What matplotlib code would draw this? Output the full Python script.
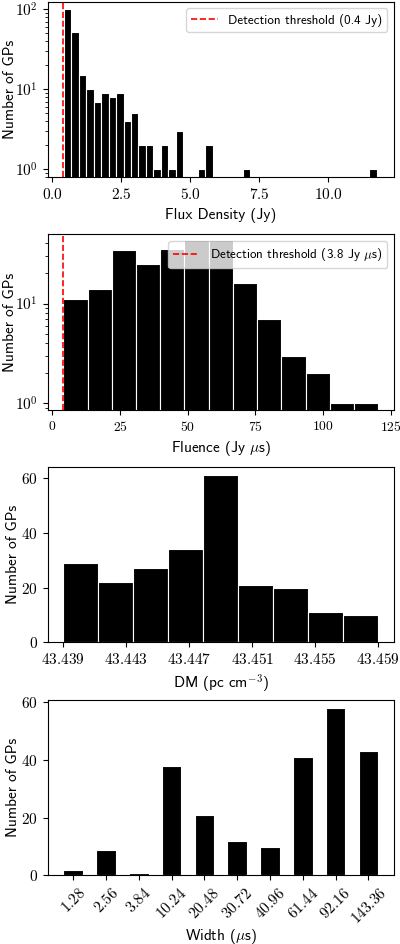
import matplotlib
matplotlib.use('Agg')
import matplotlib.pyplot as plt
import numpy as np
from matplotlib.ticker import FuncFormatter, NullFormatter, MultipleLocator

# Data
flux_bin_start = 0.42
flux_bin_width = 0.27
flux_counts = [100, 52, 15, 10, 7, 9, 8, 9, 4, 5, 2, 2, 1, 2, 1, 3, 0, 0, 1, 2,
               0, 0, 0, 0, 1, 0, 0, 0, 0, 0, 0, 0, 0, 0, 0, 0, 0, 0, 0, 0, 0, 1]
flux_threshold = 0.4

fluence_edges = [4.0, 12.95, 21.9, 30.86, 39.81, 48.77, 57.72, 66.68, 75.63,
                 84.58, 93.54, 102.49, 111.45, 120.4]
fluence_counts = [11, 14, 34, 25, 35, 43, 43, 16, 7, 3, 2, 1, 1]
fluence_threshold = 3.8

dm_edges = [43.439, 43.44122, 43.44344, 43.44567, 43.44789, 43.45011,
            43.45233, 43.45456, 43.45678, 43.459]
dm_counts = [29, 22, 27, 34, 61, 21, 20, 11, 10]
dm_ticks = [43.439, 43.443, 43.447, 43.451, 43.455, 43.459]

width_labels = ['1.28', '2.56', '3.84', '10.24', '20.48', '30.72', '40.96',
                '61.44', '92.16', '143.36']
width_counts = [2, 9, 1, 38, 21, 12, 10, 41, 58, 43]

plt.rcParams['font.family'] = 'cmss10'
plt.rcParams['mathtext.fontset'] = 'cm'
plt.rcParams['axes.unicode_minus'] = False
plt.rcParams['font.size'] = 11

fig = plt.figure(figsize=(4, 9.44), dpi=100)
L, W, H = 0.119, 0.866, 0.186
ax1 = fig.add_axes([L, 0.812, W, H])
ax2 = fig.add_axes([L, 0.5657, W, H])
ax3 = fig.add_axes([L, 0.3194, W, H])
ax4 = fig.add_axes([L, 0.0726, W, H])

log_fmt = FuncFormatter(lambda v, p: '$10^{%d}$' % int(round(np.log10(v))))


def fmt(spec):
    return FuncFormatter(lambda v, p: '$' + format(v, spec) + '$')


# Flux density
flux_edges = flux_bin_start + flux_bin_width * np.arange(len(flux_counts) + 1)
ax1.hist(flux_edges[:-1], bins=flux_edges, weights=flux_counts, color='black',
         edgecolor='white', linewidth=0.8)
ax1.set_yscale('log')
ax1.axvline(flux_threshold, color='red', ls='--', lw=1.2,
            label='Detection threshold (0.4 Jy)')
ax1.set_xlim(-0.17, 12.38)
ax1.set_ylim(0.79, 124)
ax1.xaxis.set_major_locator(MultipleLocator(2.5))
ax1.set_xlabel('Flux Density (Jy)')
ax1.set_ylabel('Number of GPs')
ax1.xaxis.set_major_formatter(fmt('.1f'))
ax1.legend(loc='upper right', fontsize=9.4)

# Fluence
ax2.hist(fluence_edges[:-1], bins=fluence_edges, weights=fluence_counts,
         color='black', edgecolor='white', linewidth=0.8)
ax2.set_yscale('log')
ax2.axvline(fluence_threshold, color='red', ls='--', lw=1.2,
            label=r'Detection threshold (3.8 Jy $\mu$s)')
ax2.set_xlim(-1.8, 126.2)
ax2.set_ylim(0.857, 49.3)
ax2.xaxis.set_major_locator(MultipleLocator(25))
ax2.set_xlabel(r'Fluence (Jy $\mu$s)')
ax2.set_ylabel('Number of GPs')
ax2.xaxis.set_major_formatter(fmt('.0f'))
ax2.legend(loc='upper right', fontsize=9.4)

for ax in (ax1, ax2):
    ax.yaxis.set_major_formatter(log_fmt)
    ax.yaxis.set_minor_formatter(NullFormatter())

# DM
ax3.hist(dm_edges[:-1], bins=dm_edges, weights=dm_counts, color='black',
         edgecolor='white', linewidth=0.8)
ax3.set_xticks(dm_ticks)
ax3.xaxis.set_major_formatter(fmt('.3f'))
ax3.yaxis.set_major_formatter(fmt('.0f'))
ax3.set_xlabel(r'DM (pc cm$^{-3}$)')
ax3.set_ylabel('Number of GPs')

# Width
pos = np.arange(len(width_labels))
ax4.bar(pos, width_counts, width=0.6, color='black', edgecolor='white',
        linewidth=0.8)
ax4.set_xticks(pos)
ax4.set_xticklabels(['$' + s + '$' for s in width_labels], rotation=45)
ax4.yaxis.set_major_formatter(fmt('.0f'))
ax4.set_xlabel(r'Width ($\mu$s)', labelpad=0)
ax4.set_ylabel('Number of GPs')

for ax in (ax1, ax2, ax3, ax4):
    ax.tick_params(labelsize=11)
# keep the last fluence tick label inside the canvas
ax2.tick_params(axis='x', labelsize=9.8)

ax1.yaxis.set_label_coords(-0.089, 0.5)
ax2.yaxis.set_label_coords(-0.089, 0.5)
ax3.yaxis.set_label_coords(-0.081, 0.5)
ax4.yaxis.set_label_coords(-0.081, 0.5)

plt.savefig('out.png', dpi=100)
